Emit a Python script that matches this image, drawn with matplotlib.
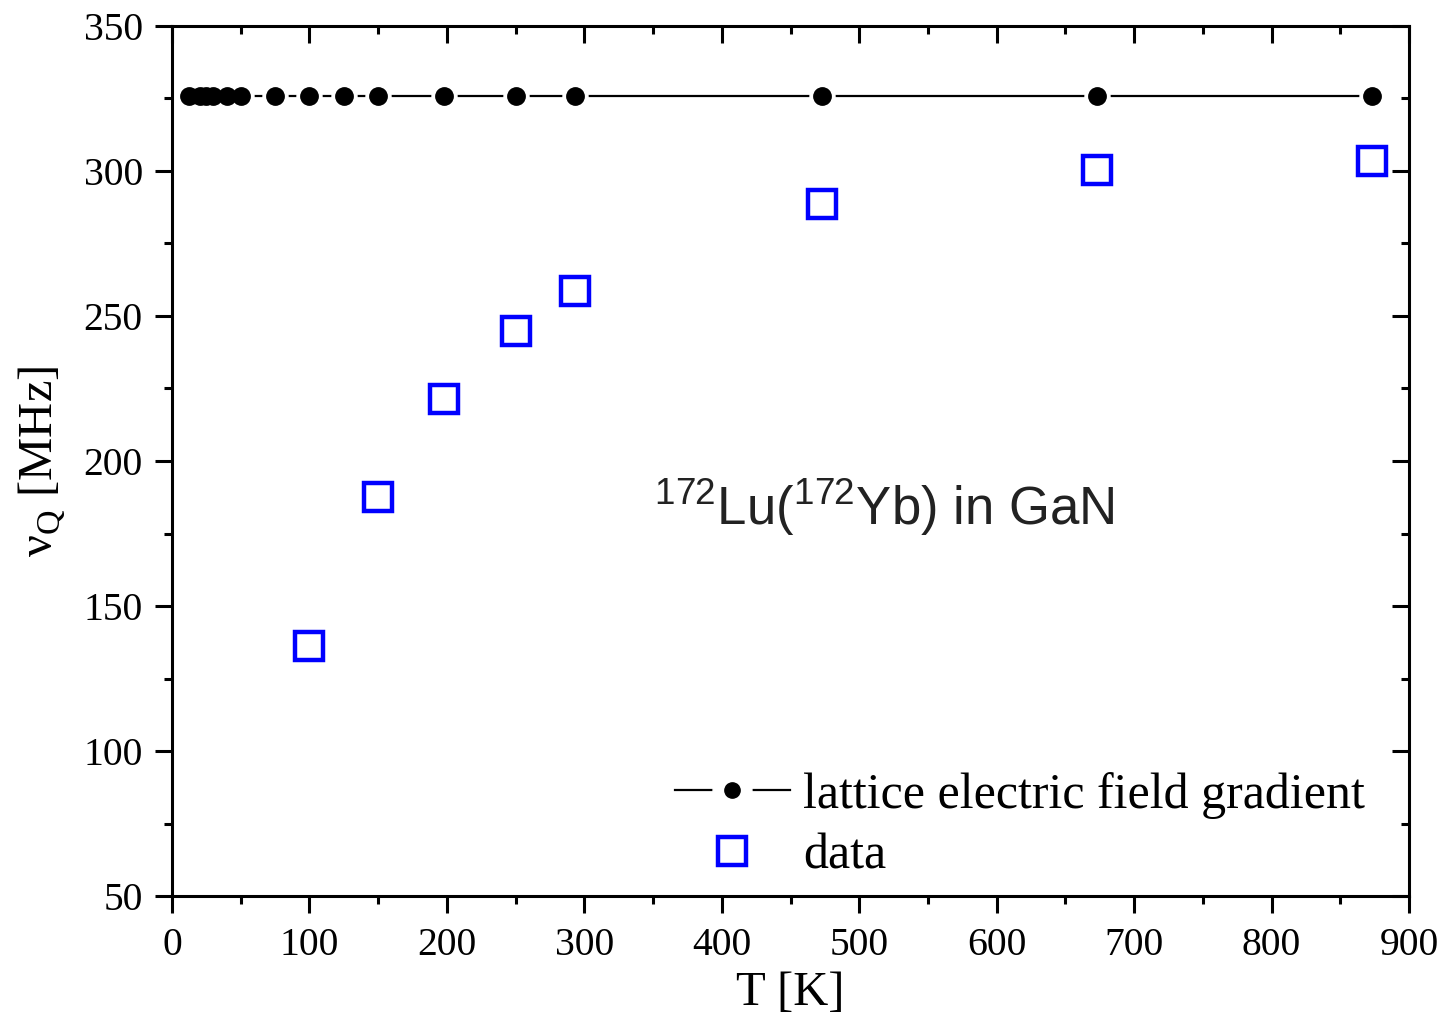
import numpy as np
import matplotlib.pyplot as plt
from matplotlib.ticker import MultipleLocator
from matplotlib.legend_handler import HandlerTuple
from matplotlib.lines import Line2D

plt.rcParams['font.family'] = 'Liberation Serif'
plt.rcParams['mathtext.fontset'] = 'custom'
plt.rcParams['mathtext.rm'] = 'Liberation Serif'
plt.rcParams['mathtext.sf'] = 'Liberation Sans'

# lattice EFG (calculated) at each measured temperature
T_lattice = [12, 20, 25, 30, 40, 50, 75, 100, 125, 150, 198, 250, 293, 473, 673, 873]
nu_lattice = [326] * len(T_lattice)

# measured quadrupole frequencies
T_data = [100, 150, 198, 250, 293, 473, 673, 873]
nu_data = [136.2, 187.6, 221.4, 244.8, 258.6, 288.6, 300.3, 303.4]

fig = plt.figure(figsize=(14.42, 10.18), dpi=100)
ax = fig.add_axes([0.1193, 0.1198, 0.8578, 0.8547])

# line with small gaps around each dot
ln, = ax.plot(T_lattice, nu_lattice, '-', color='black', lw=1.6)
halo, = ax.plot(T_lattice, nu_lattice, 'o', color='white', ms=18, ls='none')
dots, = ax.plot(T_lattice, nu_lattice, 'o', color='black', ms=12.5, ls='none')
sq, = ax.plot(T_data, nu_data, 's', mfc='none', mec='#0000ff', mew=3.2, ms=20,
              ls='none')

ax.set_xlim(0, 900)
ax.set_ylim(50, 350)
ax.xaxis.set_major_locator(MultipleLocator(100))
ax.xaxis.set_minor_locator(MultipleLocator(50))
ax.yaxis.set_major_locator(MultipleLocator(50))
ax.yaxis.set_minor_locator(MultipleLocator(25))

for s in ax.spines.values():
    s.set_linewidth(2.2)
ax.tick_params(which='both', width=2.2, labelsize=28.5, direction='out',
               top=False, right=False)
ax.tick_params(which='major', length=12)
ax.tick_params(which='minor', length=6)
ax.tick_params(axis='x', pad=10)
ax.tick_params(axis='y', pad=9)

# inward ticks on the top and right frame
ax2 = ax.twinx()
ax2.set_ylim(ax.get_ylim())
ax2.yaxis.set_major_locator(MultipleLocator(50))
ax2.yaxis.set_minor_locator(MultipleLocator(25))
ax2.tick_params(which='both', direction='in', width=2.2, labelright=False)
ax2.tick_params(which='major', length=12)
ax2.tick_params(which='minor', length=6)
ax3 = ax.twiny()
ax3.set_xlim(ax.get_xlim())
ax3.xaxis.set_major_locator(MultipleLocator(100))
ax3.xaxis.set_minor_locator(MultipleLocator(50))
ax3.tick_params(which='both', direction='in', width=2.2, labeltop=False)
ax3.tick_params(which='major', length=12)
ax3.tick_params(which='minor', length=6)

ax.set_xlabel('T [K]', fontsize=35, labelpad=5)
ax.set_ylabel('ν$_{\\rm Q}$ [MHz]', fontsize=35, labelpad=12)

ax.text(351, 184, '$\\mathsf{^{172}}$Lu($\\mathsf{^{172}}$Yb) in GaN',
        family='Liberation Sans', fontsize=38, color='#222222', va='center')

# legend key: line broken on both sides of the dot
leg_halo = Line2D([], [], marker='o', color='white', ms=28, ls='none')
leg_dot = Line2D([], [], marker='o', color='black', ms=11, ls='none')
ax.legend([(ln, leg_halo, leg_dot), sq], ['lattice electric field gradient', 'data'],
          handler_map={tuple: HandlerTuple(ndivide=1)},
          loc='upper left', bbox_to_anchor=(0.4066, 0.143), frameon=False,
          fontsize=36, handlelength=2.3, handletextpad=0.26, labelspacing=0.29,
          borderaxespad=0, borderpad=0)

fig.savefig('out.png', dpi=100)
